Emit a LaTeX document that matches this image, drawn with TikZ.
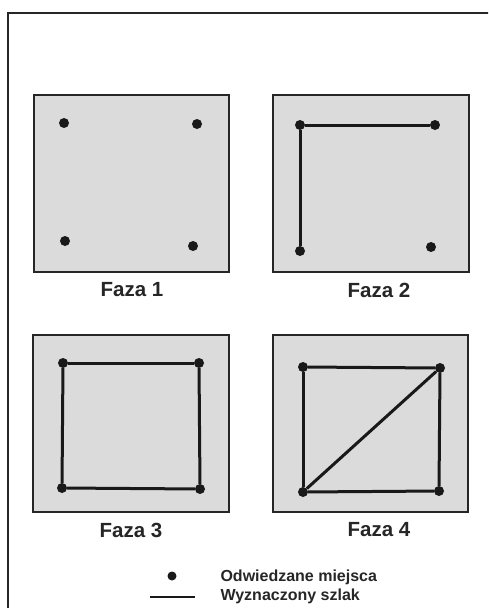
\documentclass[tikz,border=0pt]{standalone}
\usepackage{fontspec}
\setmainfont{Liberation Sans}
\begin{document}
\begin{tikzpicture}[x=1pt,y=-1pt,
  panel/.style={draw=black!85,line width=1.4pt,fill=black!14},
  spot/.style={circle,fill=black!90,inner sep=0pt,minimum size=10pt},
  route/.style={line width=3pt,draw=black!90},
  phase/.style={font=\fontsize{20.5}{22}\selectfont\bfseries,text=black!85},
  legtext/.style={font=\fontsize{16}{18}\selectfont\bfseries,text=black!85,anchor=west}]
\useasboundingbox (0,0) rectangle (488,608);
\clip (0,0) rectangle (488,608);
\draw[line width=1.6pt,draw=black!85] (8,13) rectangle (500,620);
% panel 1
\draw[panel] (34,95) rectangle (229,272);
\node[spot] (a1) at (64,123) {};
\node[spot] (b1) at (197,124) {};
\node[spot] (c1) at (65,241) {};
\node[spot] (d1) at (193,246) {};
\node[phase] (f1) at (132,290) {Faza 1};
% panel 2
\draw[panel] (273,95) rectangle (469,272);
\node[spot] (a2) at (300,125) {};
\node[spot] (b2) at (435,125) {};
\node[spot] (c2) at (300,251) {};
\node[spot] (d2) at (431,247) {};
\draw[route] (a2) -- (b2);
\draw[route] (a2) -- (c2);
\node[phase] (f2) at (379,290) {Faza 2};
% panel 3
\draw[panel] (33,335) rectangle (229,512);
\node[spot] (a3) at (63,363) {};
\node[spot] (b3) at (199,363) {};
\node[spot] (c3) at (62,488) {};
\node[spot] (d3) at (200,489) {};
\draw[route] (a3) -- (b3);
\draw[route] (b3) -- (d3);
\draw[route] (d3) -- (c3);
\draw[route] (c3) -- (a3);
\node[phase] (f3) at (131,530) {Faza 3};
% panel 4
\draw[panel] (273,335) rectangle (468,512);
\node[spot] (a4) at (303,367) {};
\node[spot] (b4) at (440,368) {};
\node[spot] (c4) at (303,492) {};
\node[spot] (d4) at (439,491) {};
\draw[route] (a4) -- (b4);
\draw[route] (b4) -- (d4);
\draw[route] (d4) -- (c4);
\draw[route] (c4) -- (a4);
\draw[route] (c4) -- (b4);
\node[phase] (f4) at (379,530) {Faza 4};
% legend
\node[spot,minimum size=9pt] (ld) at (172,576) {};
\coordinate (l1) at (150,597);
\coordinate (l2) at (195,597);
\draw[route,line width=2.6pt] (l1) -- (l2);
\node[legtext] (t1) at (217,577) {Odwiedzane miejsca};
\node[legtext] (t2) at (217,596) {Wyznaczony szlak};
\end{tikzpicture}
\end{document}
